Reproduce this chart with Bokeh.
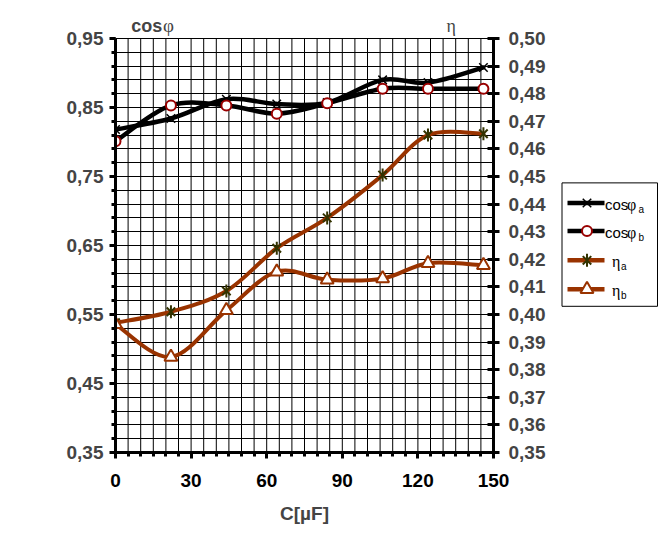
import numpy as np
from bokeh.plotting import figure
from bokeh.layouts import row
from bokeh.models import Range1d, LinearAxis, FixedTicker, Label, ColumnDataSource
from bokeh.core.properties import value
from bokeh.embed import file_html
from bokeh.resources import INLINE

# ---- data ----
C = [0, 22, 44, 64, 84, 106, 124, 146]
cos_a = [0.818, 0.834, 0.862, 0.855, 0.857, 0.890, 0.886, 0.908]
cos_b = [0.801, 0.853, 0.853, 0.841, 0.856, 0.877, 0.877, 0.877]
eta_a = [0.397, 0.401, 0.4085, 0.424, 0.435, 0.4505, 0.465, 0.4655]
eta_b = [0.3965, 0.3846, 0.4015, 0.4155, 0.4126, 0.413, 0.4186, 0.4178]

x_ticks = [0, 30, 60, 90, 120, 150]
left_ticks = [0.35, 0.45, 0.55, 0.65, 0.75, 0.85, 0.95]
left_labels = ["0,35", "0,45", "0,55", "0,65", "0,75", "0,85", "0,95"]
right_ticks = [0.35, 0.36, 0.37, 0.38, 0.39, 0.40, 0.41, 0.42, 0.43,
               0.44, 0.45, 0.46, 0.47, 0.48, 0.49, 0.50]
right_labels = ["0,35", "0,36", "0,37", "0,38", "0,39", "0,40", "0,41", "0,42",
                "0,43", "0,44", "0,45", "0,46", "0,47", "0,48", "0,49", "0,50"]

FONT = "Liberation Sans"
SERIF = "Liberation Serif"
BROWN = "#993300"

# left scale: 0.35..0.95 over 414.6 px; the frame is extended 30 px upwards
# so that the two axis titles can sit inside it.
TOP_PX = 30.0
L_TOP = 0.95 + TOP_PX * 0.60 / 414.6
R_TOP = 0.50 + TOP_PX * 0.15 / 414.6


def smooth(xs, ys):
    """Bezier segments (Catmull-Rom style) through the data points."""
    x = np.asarray(xs, float)
    y = np.asarray(ys, float)
    n = len(x)
    xp = np.concatenate([[x[0]], x, [x[-1]]])
    yp = np.concatenate([[y[0]], y, [y[-1]]])
    return ColumnDataSource(dict(
        x0=x[:-1], y0=y[:-1], x1=x[1:], y1=y[1:],
        cx0=x[:-1] + (xp[2:n + 1] - xp[0:n - 1]) / 6.0,
        cy0=y[:-1] + (yp[2:n + 1] - yp[0:n - 1]) / 6.0,
        cx1=x[1:] - (xp[3:n + 2] - xp[1:n]) / 6.0,
        cy1=y[1:] - (yp[3:n + 2] - yp[1:n]) / 6.0,
    ))


p = figure(width=548, height=544, title=None,
           x_range=Range1d(0, 150), y_range=Range1d(0.35, L_TOP),
           output_backend="svg", toolbar_location=None,
           min_border_left=115, min_border_right=55,
           min_border_top=8, min_border_bottom=92)
p.extra_y_ranges = {"eta": Range1d(0.35, R_TOP)}
p.background_fill_color = "white"
p.border_fill_color = "white"
p.outline_line_color = None

# grid: horizontal lines from the grid, vertical lines limited to the plot area
p.xgrid.visible = False
p.ygrid.ticker = FixedTicker(ticks=[round(0.35 + 0.02 * k, 2) for k in range(31)])
p.ygrid.grid_line_color = "black"
p.ygrid.grid_line_alpha = 1
p.ygrid.grid_line_width = 1
gx = np.arange(0, 151, 5)
p.segment(x0=gx, x1=gx, y0=np.full(len(gx), 0.35), y1=np.full(len(gx), 0.95),
          line_color="black", line_width=1)

# bottom axis
xa = p.xaxis[0]
xa.ticker = FixedTicker(ticks=x_ticks, minor_ticks=list(range(0, 151, 5)))
xa.axis_line_width = 3
xa.major_tick_line_width = 3
xa.minor_tick_line_width = 3
xa.major_tick_out = 6
xa.major_tick_in = 0
xa.minor_tick_out = 4
xa.minor_tick_in = 0
xa.major_label_standoff = 15
xa.major_label_text_font = FONT
xa.major_label_text_font_style = "bold"
xa.major_label_text_font_size = "19px"
xa.major_label_text_color = "black"
xa.axis_label = "C[µF]"
xa.axis_label_text_font = FONT
xa.axis_label_text_font_style = "bold"
xa.axis_label_text_font_size = "19px"
xa.axis_label_standoff = 13

# left axis
ya = p.yaxis[0]
ya.bounds = (0.35, 0.95)
ya.ticker = FixedTicker(ticks=left_ticks,
                        minor_ticks=[round(0.35 + 0.02 * k, 2) for k in range(31)])
ya.major_label_overrides = dict(zip(left_ticks, left_labels))
ya.axis_line_width = 3
ya.major_tick_line_width = 3
ya.minor_tick_line_width = 3
ya.major_tick_out = 6
ya.major_tick_in = 0
ya.minor_tick_out = 4
ya.minor_tick_in = 0
ya.major_label_standoff = 6
ya.major_label_text_font = FONT
ya.major_label_text_font_style = "bold"
ya.major_label_text_font_size = "19px"

# right axis
ra = LinearAxis(y_range_name="eta", bounds=(0.35, 0.50),
                ticker=FixedTicker(ticks=right_ticks, minor_ticks=[]))
ra.major_label_overrides = dict(zip(right_ticks, right_labels))
ra.axis_line_width = 3
ra.major_tick_line_width = 3
ra.major_tick_out = 6
ra.major_tick_in = 6
ra.minor_tick_out = 0
ra.minor_tick_in = 0
ra.major_label_standoff = 9
ra.major_label_text_font = FONT
ra.major_label_text_font_style = "bold"
ra.major_label_text_font_size = "19px"
p.add_layout(ra, "right")

# series
p.bezier("x0", "y0", "x1", "y1", "cx0", "cy0", "cx1", "cy1", source=smooth(C, cos_a),
         line_color="black", line_width=4.5, line_cap="round")
p.scatter(C, cos_a, marker="x", size=12, line_color="black", line_width=1.5)

p.bezier("x0", "y0", "x1", "y1", "cx0", "cy0", "cx1", "cy1", source=smooth(C, cos_b),
         line_color="black", line_width=4.5, line_cap="round")
p.scatter(C, cos_b, marker="circle", size=10, line_color="#990000",
          fill_color="white", line_width=2)

p.bezier("x0", "y0", "x1", "y1", "cx0", "cy0", "cx1", "cy1", source=smooth(C, eta_a),
         line_color=BROWN, line_width=4, line_cap="round", y_range_name="eta")
p.scatter(C, eta_a, marker="x", size=12, line_color="#333300", line_width=2, y_range_name="eta")
p.scatter(C, eta_a, marker="dash", angle=np.pi / 2, size=13, line_color="#333300",
          line_width=2, y_range_name="eta")

p.bezier("x0", "y0", "x1", "y1", "cx0", "cy0", "cx1", "cy1", source=smooth(C, eta_b),
         line_color=BROWN, line_width=4, line_cap="round", y_range_name="eta")
p.scatter(C, eta_b, marker="triangle", size=13, line_color=BROWN, fill_color="white",
          line_width=2, y_range_name="eta")

# axis titles at the top
TY = 0.95 + 12.7 * 0.60 / 414.6
p.add_layout(Label(x=6.25, y=TY, text="cos", text_font=FONT, text_font_style="bold",
                   text_font_size="18px", text_baseline="middle", text_align="left"))
p.add_layout(Label(x=18.8, y=TY, text="φ", text_font=SERIF, text_font_size="19px",
                   text_baseline="middle", text_align="left"))
p.add_layout(Label(x=131.3, y=TY, text="η", text_font=SERIF, text_font_size="18px",
                   text_baseline="middle", text_align="left"))

# ---- legend (separate small canvas, page pixel coordinates) ----
lg = figure(width=112, height=544, title=None,
            x_range=Range1d(548, 660), y_range=Range1d(452.3, 8),
            output_backend="svg", toolbar_location=None,
            x_axis_location=None, y_axis_location=None,
            min_border_left=0, min_border_right=0,
            min_border_top=8, min_border_bottom=92)
lg.grid.visible = False
lg.outline_line_color = None
lg.background_fill_color = "white"
lg.border_fill_color = "white"

lg.quad(left=[561.5], right=[657], top=[182.5], bottom=[306], fill_color=None,
        line_color="black", line_width=1)

rows_y = [202.7, 230.7, 260, 289]
line_cols = ["black", "black", BROWN, BROWN]
lg.segment(x0=[567] * 4, x1=[604] * 4, y0=rows_y, y1=rows_y, line_color=line_cols,
           line_width=4.5)
mx = 586.5
lg.scatter([mx], [rows_y[0]], marker="x", size=12, line_color="black", line_width=1.5)
lg.scatter([mx], [rows_y[1]], marker="circle", size=10, line_color="#990000",
           fill_color="white", line_width=2)
lg.scatter([mx], [rows_y[2]], marker="x", size=12, line_color="#333300", line_width=2)
lg.scatter([mx], [rows_y[2]], marker="dash", angle=np.pi / 2, size=13,
           line_color="#333300", line_width=2)
lg.scatter([mx], [rows_y[3]], marker="triangle", size=13, line_color=BROWN,
           fill_color="white", line_width=2)

lg.text(x=[604.5, 604.5], y=[rows_y[0] + 1, rows_y[1] + 1], text=["cos", "cos"],
        text_font=value(FONT), text_font_size="15px", text_baseline="middle",
        text_align="left")
lg.text(x=[626.5, 626.5], y=[rows_y[0] + 1, rows_y[1] + 1], text=["φ", "φ"],
        text_font=value(SERIF), text_font_size="16px", text_baseline="middle",
        text_align="left")
lg.text(x=[638, 638], y=[rows_y[0] + 6, rows_y[1] + 6], text=["a", "b"],
        text_font=value(FONT), text_font_size="10px", text_baseline="middle",
        text_align="left")
lg.text(x=[611.5, 611.5], y=[rows_y[2] + 1, rows_y[3] + 1], text=["η", "η"],
        text_font=value(SERIF), text_font_size="16px", text_baseline="middle",
        text_align="left")
lg.text(x=[620.5, 620.5], y=[rows_y[2] + 6, rows_y[3] + 6], text=["a", "b"],
        text_font=value(FONT), text_font_size="10px", text_baseline="middle",
        text_align="left")

layout = row(p, lg)
open("out.html", "w").write(file_html(layout, INLINE))
